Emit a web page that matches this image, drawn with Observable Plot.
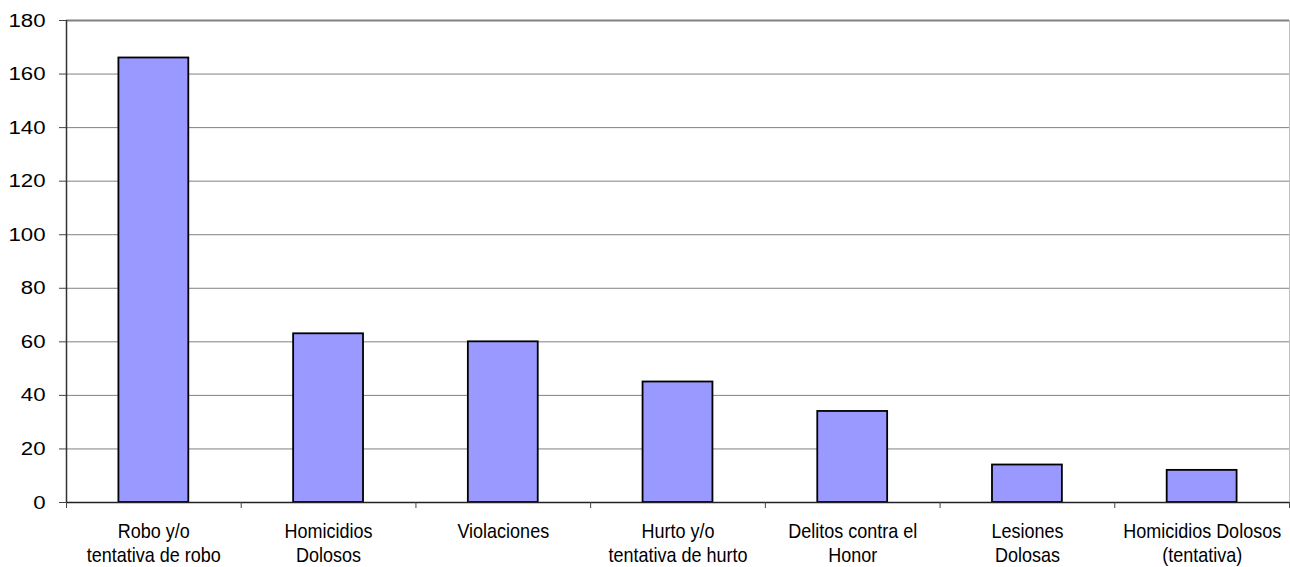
<!DOCTYPE html>
<html>
<head>
<meta charset="utf-8">
<script src="https://cdn.jsdelivr.net/npm/d3@7"></script>
<script src="https://cdn.jsdelivr.net/npm/@observablehq/plot@0.6"></script>
<style>
  html, body { margin: 0; padding: 0; background: #fff; }
  #chart svg { display: block; }
</style>
</head>
<body>
<div id="chart"></div>
<script>
const categories = [
  "Robo y/o\ntentativa de robo",
  "Homicidios\nDolosos",
  "Violaciones",
  "Hurto y/o\ntentativa de hurto",
  "Delitos contra el\nHonor",
  "Lesiones\nDolosas",
  "Homicidios Dolosos\n(tentativa)"
];
const values = [166, 63, 60, 45, 34, 14, 12];
const yTicks = [0, 20, 40, 60, 80, 100, 120, 140, 160, 180];

const data = categories.map((c, i) => ({ i, c, v: values[i] }));
const centers = categories.map((c, i) => i + 0.5);
const bounds = d3.range(categories.length + 1);

const chart = Plot.plot({
  width: 1290,
  height: 567,
  marginLeft: 66,
  marginRight: 1,
  marginTop: 20,
  marginBottom: 65,
  style: { fontFamily: "'Liberation Sans', Arial, sans-serif", background: "#fff" },
  x: { type: "linear", domain: [0, categories.length] },
  y: { domain: [0, 180] },
  marks: [
    Plot.ruleY(yTicks.filter(d => d > 0 && d < 180), { stroke: "#808080", strokeWidth: 1 }),
    Plot.ruleY([180], { stroke: "#808080", strokeWidth: 2 }),
    Plot.ruleX([categories.length], { stroke: "#c0c0c0", strokeWidth: 1 }),
    Plot.rectY(data, {
      x1: d => d.i + 0.3,
      x2: d => d.i + 0.7,
      y1: 0,
      y2: "v",
      fill: "#9999ff",
      stroke: "#000",
      strokeWidth: 1.8
    }),
    Plot.ruleX([0], { stroke: "#333", strokeWidth: 1.5 }),
    Plot.ruleY([0], { stroke: "#222", strokeWidth: 1.5 }),
    Plot.axisY({
      ticks: yTicks,
      tickSize: 7,
      tickPadding: 14,
      fontSize: 19,
      stroke: "#444",
      fill: "#000",
      tickFormat: d => String(d),
      label: null
    }),
    Plot.axisX({
      ticks: bounds,
      tickSize: 6,
      tickFormat: () => "",
      stroke: "#444",
      label: null
    }),
    Plot.axisX({
      ticks: centers,
      tickSize: 0,
      tickPadding: 19,
      fontSize: 20,
      lineHeight: 1.18,
      fill: "#000",
      tickFormat: d => categories[Math.floor(d)],
      label: null
    })
  ]
});

// stretch tick label glyphs horizontally to match the reference's font proportions
function stretch(selector, sx) {
  chart.querySelectorAll(selector).forEach(t => {
    const tr = t.getAttribute("transform");
    if (tr) {
      t.setAttribute("transform", tr + ` scale(${sx},1)`);
    } else {
      const x = +(t.getAttribute("x") || 0), y = +(t.getAttribute("y") || 0);
      t.removeAttribute("x"); t.removeAttribute("y");
      t.setAttribute("transform", `translate(${x},${y}) scale(${sx},1)`);
    }
  });
}
stretch('g[aria-label="y-axis tick label"] text', 1.17);
stretch('g[aria-label="x-axis tick label"] text', 0.9);

document.getElementById("chart").append(chart);
</script>
</body>
</html>
